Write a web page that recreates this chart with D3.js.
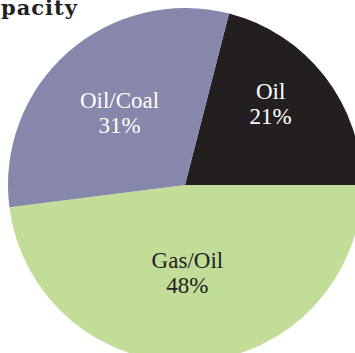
<!DOCTYPE html>
<html>
<head>
<meta charset="utf-8">
<script src="https://cdn.jsdelivr.net/npm/d3@7"></script>
<style>
  body { margin: 0; background: #fff; }
  svg { display: block; }
</style>
</head>
<body>
<div id="chart"></div>
<script>
const categories = ['Oil', 'Gas/Oil', 'Oil/Coal'];
const shares = [21, 48, 31];
const colors = ['#231f20', '#c2dd97', '#8786ab'];

const width = 355;
const height = 353;
const cx = 185;
const cy = 185;
const radius = 177;
const serif = '"Palatino Linotype", "Book Antiqua", Palatino, "Liberation Serif", "DejaVu Serif", serif';

// small hand nudges of the labels away from the arc centroid
const labelNudge = {
  'Oil': [5, -23],
  'Gas/Oil': [-4, -19],
  'Oil/Coal': [2, 0]
};

const svg = d3.select('#chart')
  .append('svg')
  .attr('width', width)
  .attr('height', height);

// pie starts so that the Oil slice ends exactly at 3 o'clock
const startAngle = Math.PI / 2 - 2 * Math.PI * shares[0] / 100;
const pie = d3.pie()
  .sort(null)
  .startAngle(startAngle)
  .endAngle(startAngle + 2 * Math.PI)
  .value(d => d.value);

const data = categories.map((c, i) => ({ name: c, value: shares[i], color: colors[i] }));
const arcs = pie(data);

const arc = d3.arc().innerRadius(0).outerRadius(radius);
const labelArc = d3.arc().innerRadius(102).outerRadius(102);

const g = svg.append('g').attr('transform', `translate(${cx},${cy})`);

g.selectAll('path')
  .data(arcs)
  .enter()
  .append('path')
  .attr('d', arc)
  .attr('fill', d => d.data.color);

const labels = g.selectAll('.lbl')
  .data(arcs)
  .enter()
  .append('text')
  .attr('class', 'lbl')
  .attr('transform', d => {
    const [x, y] = labelArc.centroid(d);
    const n = labelNudge[d.data.name];
    return `translate(${x + n[0]},${y + n[1]})`;
  })
  .attr('text-anchor', 'middle')
  .attr('font-family', serif)
  .attr('font-size', 23)
  .attr('fill', d => d.data.name === 'Gas/Oil' ? '#231f20' : '#ffffff');

labels.append('tspan')
  .attr('x', 0)
  .attr('dy', 0)
  .text(d => d.data.name);

labels.append('tspan')
  .attr('x', 0)
  .attr('dy', 25)
  .text(d => d.data.value + '%');

// title runs off the left edge, as in the source
svg.append('text')
  .attr('x', 78)
  .attr('y', 15)
  .attr('text-anchor', 'end')
  .attr('font-family', '"DejaVu Serif", serif')
  .attr('font-weight', 'bold')
  .attr('font-size', 21)
  .attr('letter-spacing', 1)
  .attr('fill', '#231f20')
  .text('Capacity');
</script>
</body>
</html>
